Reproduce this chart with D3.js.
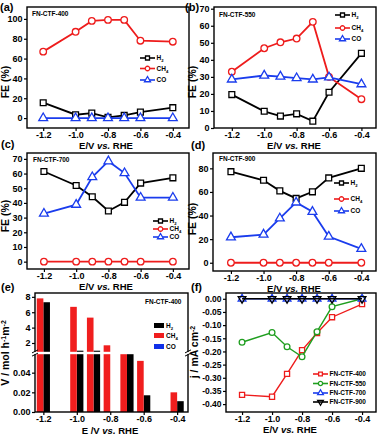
<!DOCTYPE html>
<html><head><meta charset="utf-8">
<script src="https://cdn.jsdelivr.net/npm/d3@7"></script>
<style>
body{margin:0;background:#fff}
svg{display:block;font-family:"Liberation Sans",Arial,sans-serif;font-weight:bold}
</style></head><body>
<svg id="chart" width="382" height="436"></svg>
<script>
// potentials (V vs RHE) shared by all panels
var potentials = [-1.2, -1.0, -0.9, -0.8, -0.7, -0.6, -0.4];
var xTicks = [-1.2, -1.0, -0.8, -0.6, -0.4];

// FE (%) per catalyst
var h2_400 = [15.5, 3.4, 5, 0.8, 2.7, 6, 10.5];
var ch4_400 = [67, 87, 98, 99, 99, 78, 77];
var co_400 = [0, 0, 0, 0, 0, 0, 0];

var h2_550 = [19.6, 9.8, 7, 8.3, 4, 21, 43.8];
var ch4_550 = [33, 46.8, 50.3, 52.5, 62.3, 30, 16.9];
var co_550 = [28.5, 30.8, 30.2, 29.3, 28.5, 29.7, 25.7];

var h2_700 = [61.4, 51.9, 44.2, 34.5, 40.4, 53.5, 57.1];
var ch4_700 = [0, 0, 0, 0, 0, 0, 0];
var co_700 = [32.7, 38.8, 57.6, 68.4, 60.3, 43.6, 43.6];

var h2_900 = [77.2, 69.9, 60.9, 54.5, 60.1, 71.9, 80];
var ch4_900 = [0, 0, 0, 0, 0, 0, 0];
var co_900 = [21.6, 23.9, 37.6, 51.1, 43.2, 22.2, 11.8];

// (e) production rate of FN-CTF-400
var rateH2 = [7.3, 1.0, 1.0, 0.0, 0.06, 0.017, 0.011];
var rateCH4 = [7.8, 6.7, 5.3, 1.7, 0.06, 0.052, 0.020];
var rateCO = [0, 0, 0, 0, 0, 0, 0];

// (f) partial current density of CH4
var j400 = [-0.365, -0.372, -0.285, -0.195, -0.13, -0.07, -0.02];
var j550 = [-0.165, -0.128, -0.182, -0.22, -0.125, -0.03, 0];
var j700 = [0, 0, 0, 0, 0, 0, 0];
var j900 = [0, 0, 0, 0, 0, 0, 0];

var FONT = '"Liberation Sans",Arial,sans-serif';
var red = "#ee1c1c", blue = "#1a3ced", green = "#1f9e1f", black = "#000";
var svg = d3.select("#chart");

function fmtX(d) { return d.toFixed(1); }

function symbolPath(shape, size) {
  var t = {square: d3.symbolSquare, circle: d3.symbolCircle, up: d3.symbolTriangle, down: d3.symbolTriangle}[shape];
  return d3.symbol().type(t).size(size)();
}

function addMarker(g, shape, size, color, cx, cy) {
  g.append("path")
    .attr("d", symbolPath(shape, size))
    .attr("transform", "translate(" + cx + "," + cy + ")" + (shape == "down" ? " rotate(180)" : ""))
    .attr("fill", shape == "down" ? "none" : "#fff")
    .attr("stroke", color)
    .attr("stroke-width", 1.3);
}

function subText(sel, base, sub, size) {
  sel.append("tspan").text(base);
  if (sub) sel.append("tspan").attr("font-size", size * 0.65).attr("dy", 2).text(sub);
}

function styleAxis(a, size) {
  a.attr("font-family", FONT).attr("font-size", size).attr("font-weight", "bold");
  a.select(".domain").remove();
  a.selectAll(".tick line").attr("stroke-width", 1.2);
}

function xTitle(cx, y, pre) {
  var t = svg.append("text").attr("x", cx).attr("y", y).attr("text-anchor", "middle").attr("font-size", 9.5);
  t.append("tspan").text(pre + " ");
  t.append("tspan").attr("font-style", "italic").text("vs.");
  t.append("tspan").text(" RHE");
}

function yTitle(x, cy, parts) {
  var t = svg.append("text").attr("transform", "translate(" + x + "," + cy + ") rotate(-90)")
    .attr("text-anchor", "middle").attr("font-size", 10.5);
  parts.forEach(function (p) {
    var s = t.append("tspan").text(p[0]);
    if (p[1]) s.attr("font-size", 7).attr("baseline-shift", "super");
  });
}

function panelLabel(x, y, s) {
  svg.append("text").attr("x", x).attr("y", y).attr("font-size", 11).text(s);
}

function linePanel(o) {
  var w = o.right - o.left, h = o.bottom - o.top;
  var g = svg.append("g").attr("transform", "translate(" + o.left + "," + o.top + ")");
  var x = d3.scaleLinear().domain(o.xDomain).range([0, w]);
  var y = d3.scaleLinear().domain(o.yDomain).range([h, 0]);

  var ax = g.append("g").attr("transform", "translate(0," + h + ")")
    .call(d3.axisBottom(x).tickValues(xTicks).tickFormat(fmtX).tickSize(3).tickPadding(1));
  styleAxis(ax, 9);
  var ay = g.append("g")
    .call(d3.axisLeft(y).tickValues(o.yTicks).tickFormat(o.yFmt || function (d) { return d; }).tickSize(3).tickPadding(1.5));
  styleAxis(ay, o.yFont || 9);

  var line = d3.line().x(function (d) { return x(d[0]); }).y(function (d) { return y(d[1]); });
  o.series.forEach(function (s) {
    var pts = potentials.map(function (p, i) { return [p, s.values[i]]; });
    g.append("path").datum(pts).attr("d", line).attr("fill", "none")
      .attr("stroke", s.color).attr("stroke-width", o.lw || 1.8);
    pts.forEach(function (p) { addMarker(g, s.shape, o.msize || 34, s.color, x(p[0]), y(p[1])); });
  });

  g.append("rect").attr("width", w).attr("height", h).attr("fill", "none")
    .attr("stroke", "#000").attr("stroke-width", 1.4);

  if (o.name) {
    svg.append("text").attr("x", o.name[0]).attr("y", o.name[1]).attr("font-size", 6.5).text(o.name[2]);
  }

  // legend
  o.series.forEach(function (s, i) {
    var ly = o.legend.y[i], lx = o.legend.x;
    svg.append("line").attr("x1", lx).attr("x2", lx + 15).attr("y1", ly).attr("y2", ly)
      .attr("stroke", s.color).attr("stroke-width", 1.6);
    addMarker(svg, s.shape, o.legend.msize || 16, s.color, lx + 7.5, ly);
    var t = svg.append("text").attr("x", lx + 16.5).attr("y", ly + 2.4).attr("font-size", o.legend.font || 6.5);
    subText(t, s.label[0], s.label[1], o.legend.font || 6.5);
  });
}

var feTicks20 = [0, 20, 40, 60, 80, 100];
var feTicks10 = [0, 10, 20, 30, 40, 50, 60, 70];

function feSeries(h2, ch4, co) {
  return [
    {label: ["H", "2"], values: h2, color: black, shape: "square"},
    {label: ["CH", "4"], values: ch4, color: red, shape: "circle"},
    {label: ["CO", ""], values: co, color: blue, shape: "up"}
  ];
}

// (a)
linePanel({left: 27, right: 189, top: 7, bottom: 128, xDomain: [-1.3, -0.3], yDomain: [-10, 112],
  yTicks: feTicks20, series: feSeries(h2_400, ch4_400, co_400), name: [32, 16, "FN-CTF-400"],
  legend: {x: 140, y: [58, 68.5, 80]}});
// (b)
linePanel({left: 214, right: 376, top: 7, bottom: 128, xDomain: [-1.31, -0.31], yDomain: [0, 71],
  yTicks: feTicks10, series: feSeries(h2_550, ch4_550, co_550), name: [219, 17, "FN-CTF-550"],
  legend: {x: 335, y: [15, 28, 39]}});
// (c)
linePanel({left: 27, right: 189, top: 153, bottom: 269, xDomain: [-1.305, -0.3], yDomain: [-5, 74],
  yTicks: feTicks10, series: feSeries(h2_700, ch4_700, co_700), name: [33, 162, "FN-CTF-700"],
  legend: {x: 153, y: [221, 229, 237]}});
// (d)
linePanel({left: 213, right: 376, top: 153, bottom: 271, xDomain: [-1.31, -0.31], yDomain: [-7, 93],
  yTicks: [0, 20, 40, 60, 80], series: feSeries(h2_900, ch4_900, co_900), name: [219, 161, "FN-CTF-900"],
  legend: {x: 334, y: [183, 199, 211]}});

// (f)
linePanel({left: 226, right: 376, top: 293, bottom: 412, xDomain: [-1.307, -0.307], yDomain: [-0.43, 0.022],
  yTicks: d3.range(0, -0.401, -0.05), yFmt: function (d) { return d.toFixed(2); }, yFont: 8.5,
  msize: 26, lw: 1.4,
  series: [
    {label: ["FN-CTF-400", ""], values: j400, color: red, shape: "square"},
    {label: ["FN-CTF-550", ""], values: j550, color: green, shape: "circle"},
    {label: ["FN-CTF-700", ""], values: j700, color: blue, shape: "up"},
    {label: ["FN-CTF-900", ""], values: j900, color: black, shape: "down"}
  ],
  legend: {x: 313, y: [374, 383.5, 393, 402], font: 6.5, msize: 14}});

// (e) bars with broken axis
(function () {
  var left = 35, right = 188, top = 293, bottom = 412;
  var w = right - left, h = bottom - top, brk = 60;
  var g = svg.append("g").attr("transform", "translate(" + left + "," + top + ")");
  var x = d3.scaleLinear().domain([-1.25, -0.335]).range([0, w]);
  var y = d3.scaleLinear().domain([0, 0.06, 0.7, 8.5]).range([h, brk, brk, 0]);
  var bw = 6.6;
  var groups = [
    {label: ["H", "2"], values: rateH2, color: "#000", off: 0},
    {label: ["CH", "4"], values: rateCH4, color: "#f01e1e", off: -1},
    {label: ["CO", ""], values: rateCO, color: "#1030e8", off: 1}
  ];
  groups.forEach(function (s) {
    g.selectAll(null).data(s.values).enter().append("rect")
      .attr("x", function (d, i) { return x(potentials[i]) + s.off * bw; })
      .attr("y", function (d) { return y(d); })
      .attr("width", bw)
      .attr("height", function (d) { return h - y(d); })
      .attr("fill", s.color);
  });

  var ax = g.append("g").attr("transform", "translate(0," + h + ")")
    .call(d3.axisBottom(x).tickValues(xTicks).tickFormat(fmtX).tickSize(3).tickPadding(1));
  styleAxis(ax, 9);
  var ay = g.append("g")
    .call(d3.axisLeft(y).tickValues([0, 0.02, 0.04, 2, 4, 6, 8])
      .tickFormat(function (d) { return d < 1 ? d.toFixed(2) : d; }).tickSize(3).tickPadding(1.5));
  styleAxis(ay, 9);

  g.append("rect").attr("width", w).attr("height", h).attr("fill", "none")
    .attr("stroke", "#000").attr("stroke-width", 1.4);
  // break gap
  g.append("rect").attr("x", -4).attr("y", brk - 1.2).attr("width", w + 8).attr("height", 2.4).attr("fill", "#fff");
  [0, w].forEach(function (ex) {
    [-1.6, 1.6].forEach(function (dy) {
      g.append("line").attr("x1", ex - 3).attr("x2", ex + 3).attr("y1", brk + dy + 1.5).attr("y2", brk + dy - 1.5)
        .attr("stroke", "#000").attr("stroke-width", 1);
    });
  });

  svg.append("text").attr("x", 145).attr("y", 304).attr("font-size", 6.5).text("FN-CTF-400");
  var ly = [325.5, 335.5, 346.5];
  groups.forEach(function (s, i) {
    svg.append("rect").attr("x", 154).attr("y", ly[i] - 2.5).attr("width", 10).attr("height", 5).attr("fill", s.color);
    var t = svg.append("text").attr("x", 166).attr("y", ly[i] + 2.4).attr("font-size", 6.5);
    subText(t, s.label[0], s.label[1], 6.5);
  });
})();

// titles
xTitle(106, 148.5, "E/V");
xTitle(294, 148.5, "E/V");
xTitle(106, 289.5, "E/V");
xTitle(294, 291.5, "E/V");
xTitle(110, 434, "E /V");
xTitle(290, 433, "E/V");
yTitle(9, 82, [["FE (%)"]]);
yTitle(196, 82, [["FE (%)"]]);
yTitle(9, 216, [["FE (%)"]]);
yTitle(196, 219, [["FE (%)"]]);
yTitle(9, 353, [["V / mol h"], ["-1", 1], ["m"], ["-2", 1]]);
yTitle(198, 352, [["j / mA cm"], ["-2", 1]]);

panelLabel(0, 11, "(a)");
panelLabel(185, 11, "(b)");
panelLabel(1, 148, "(c)");
panelLabel(191, 149, "(d)");
panelLabel(1, 291, "(e)");
panelLabel(191, 291, "(f)");
</script>
</body></html>
